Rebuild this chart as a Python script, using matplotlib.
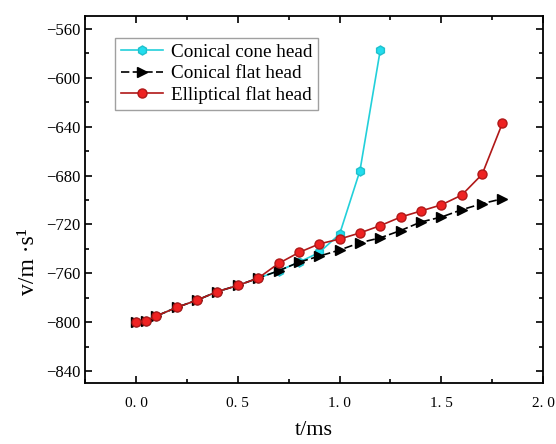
from matplotlib import pyplot as plt
from matplotlib.ticker import MultipleLocator, FuncFormatter
import numpy as np

plt.rcParams['font.family'] = ['Liberation Serif', 'DejaVu Serif']

t = [0, 0.05, 0.1, 0.2, 0.3, 0.4, 0.5, 0.6, 0.7, 0.8, 0.9, 1.0, 1.1, 1.2, 1.3, 1.4, 1.5, 1.6, 1.7, 1.8]

t_cone = [0, 0.05, 0.1, 0.2, 0.3, 0.4, 0.5, 0.6, 0.7, 0.8, 0.9, 1.0, 1.1, 1.2]
v_cone = [-800, -799, -795, -788, -782, -775, -770, -764, -758, -751, -743, -728, -676, -577]

v_flat = [-800, -799, -795, -788, -782, -775, -770, -764, -758, -751, -746, -741,
          -735, -731, -725, -718, -714, -708, -703, -699]

v_ellip = [-800, -799, -795, -788, -782, -775, -770, -764, -752, -743, -736, -732,
           -727, -721, -714, -709, -704, -696, -679, -637]

f, ax = plt.subplots(figsize=[5.56, 4.44], dpi=100)
f.subplots_adjust(left=0.153, right=0.977, bottom=0.137, top=0.965)

ax.plot(t_cone, v_cone, color='#22D0DA', lw=1.2, marker='h', ms=6.5,
        mfc='#22DDEE', mec='#20C0CC', label='Conical cone head', zorder=2)
ax.plot(t, v_flat, color='black', lw=1.2, ls=(0, (5, 2)), marker='>', ms=7,
        mfc='black', mec='black', label='Conical flat head', zorder=3)
ax.plot(t, v_ellip, color='#B01818', lw=1.2, marker='o', ms=6.5,
        mfc='#EE2222', mec='#B01818', label='Elliptical flat head', zorder=4)

ax.set_xlim(-0.25, 2.0)
ax.set_ylim(-850, -549)
ax.xaxis.set_major_locator(MultipleLocator(0.5))
ax.xaxis.set_minor_locator(MultipleLocator(0.25))
ax.yaxis.set_major_locator(MultipleLocator(40))
ax.yaxis.set_minor_locator(MultipleLocator(20))
ax.xaxis.set_major_formatter(FuncFormatter(lambda x, p: ('%.1f' % x).replace('.', '. ')))
ax.yaxis.set_major_formatter(FuncFormatter(lambda y, p: '\u2212%d' % abs(y)))
ax.tick_params(which='both', direction='in', top=True, right=True, width=1.2)
ax.tick_params(axis='y', labelsize=12)
ax.tick_params(axis='x', labelsize=11, pad=10)
ax.tick_params(which='major', length=5)
ax.tick_params(which='minor', length=3)
for s in ax.spines.values():
    s.set_linewidth(1.3)

ax.set_xlabel('t/ms', fontsize=16, labelpad=8)
ax.set_ylabel('v/m \u00b7s\u00b9', fontsize=17)
ax.yaxis.set_label_coords(-0.10, 0.33)

leg = ax.legend(loc='upper left', bbox_to_anchor=(0.045, 0.965), fontsize=13.8,
                frameon=True, fancybox=False, edgecolor='#888888',
                handlelength=2.2, borderpad=0.3, labelspacing=0.2, handletextpad=0.4)
leg.get_frame().set_linewidth(1.0)

plt.savefig('out.png', dpi=100)
